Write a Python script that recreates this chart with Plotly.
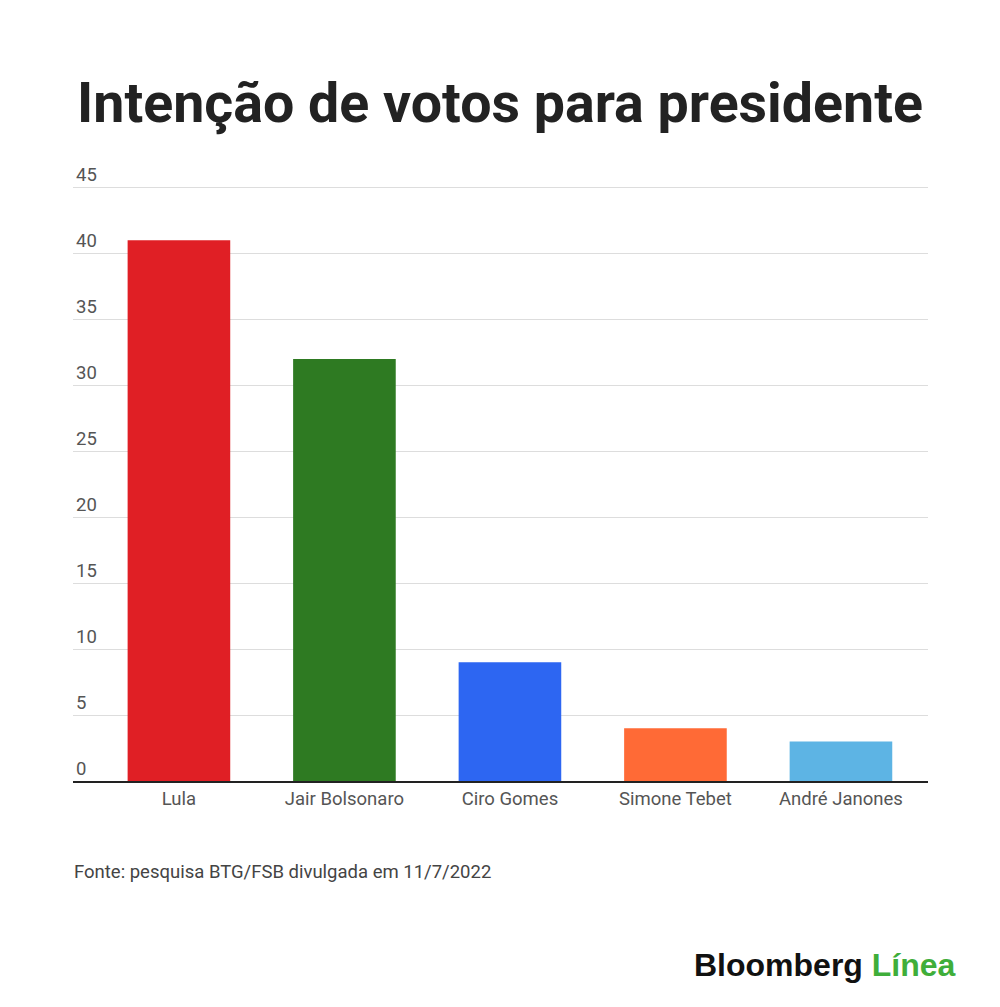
import plotly.graph_objects as go

# Daten
kandidaten = ["Lula", "Jair Bolsonaro", "Ciro Gomes", "Simone Tebet", "André Janones"]
stimmen = [41, 32, 9, 4, 3]
farben = ["#E01F25", "#2E7A22", "#2D66F2", "#FF6A36", "#5DB4E4"]
y_ticks = [0, 5, 10, 15, 20, 25, 30, 35, 40, 45]

titel = "Intenção de votos para presidente"
quelle = "Fonte: pesquisa BTG/FSB divulgada em 11/7/2022"

# Seite hat 8px Rand, daher alles um 8px verschieben
OFF = 8
Y_MAX = 45.5
P_BOT = 781 - OFF
P_TOP = P_BOT - (781 - 188) * Y_MAX / 45
P_LEFT = 73 - OFF
P_RIGHT = 928 - OFF


def make_plot():
    fig = go.Figure()
    fig.add_trace(go.Bar(
        x=list(range(len(kandidaten))),
        y=stimmen,
        marker=dict(color=farben, line=dict(width=0)),
        width=0.62,
        hoverinfo="skip",
    ))

    fig.update_layout(
        width=1000,
        height=1007,
        margin=dict(l=P_LEFT, r=1000 - P_RIGHT, t=P_TOP, b=1007 - P_BOT),
        plot_bgcolor="white",
        paper_bgcolor="white",
        font=dict(family="Roboto", color="#555555"),
        showlegend=False,
        title=dict(
            text="<b>" + titel + "</b>",
            x=0.5 - OFF / 1000, xanchor="center",
            y=1 - (103 - OFF) / 1007, yanchor="middle",
            font=dict(family="Roboto", size=55.5, color="#222222"),
        ),
    )

    fig.update_xaxes(
        range=[-0.64, 4.526],
        tickvals=list(range(len(kandidaten))),
        ticktext=kandidaten,
        tickfont=dict(size=18.5, color="#555555"),
        showgrid=False,
        showline=True, linecolor="#222222", linewidth=2,
        ticks="", ticklen=0,
        fixedrange=True,
    )
    fig.update_yaxes(
        range=[0, Y_MAX],
        tickvals=y_ticks,
        ticklabelposition="inside top",
        ticklabeloverflow="allow",
        tickfont=dict(size=18.5, color="#555555"),
        showgrid=True, gridcolor="#DDDDDD", gridwidth=1,
        zeroline=False,
        showline=False,
        fixedrange=True,
    )

    hoehe = P_BOT - P_TOP
    breite = P_RIGHT - P_LEFT
    # Quelle
    fig.add_annotation(
        text=quelle, xref="paper", yref="paper",
        x=(75 - 73 - 3) / breite, y=-(872 - 781) / hoehe, xanchor="left", yanchor="middle",
        showarrow=False, font=dict(size=18.5, color="#444444"),
    )
    # Logo
    fig.add_annotation(
        text="<b><span style='color:#111111'>Bloomberg</span> <span style='color:#3FAE3A'>Línea</span></b>",
        xref="paper", yref="paper",
        x=(955 - 73 + 3) / breite, y=-(965 - 781) / hoehe,
        xanchor="right", yanchor="middle",
        showarrow=False, font=dict(family="Liberation Sans", size=32),
    )
    return fig


fig = make_plot()
fig.write_html("out.html")
